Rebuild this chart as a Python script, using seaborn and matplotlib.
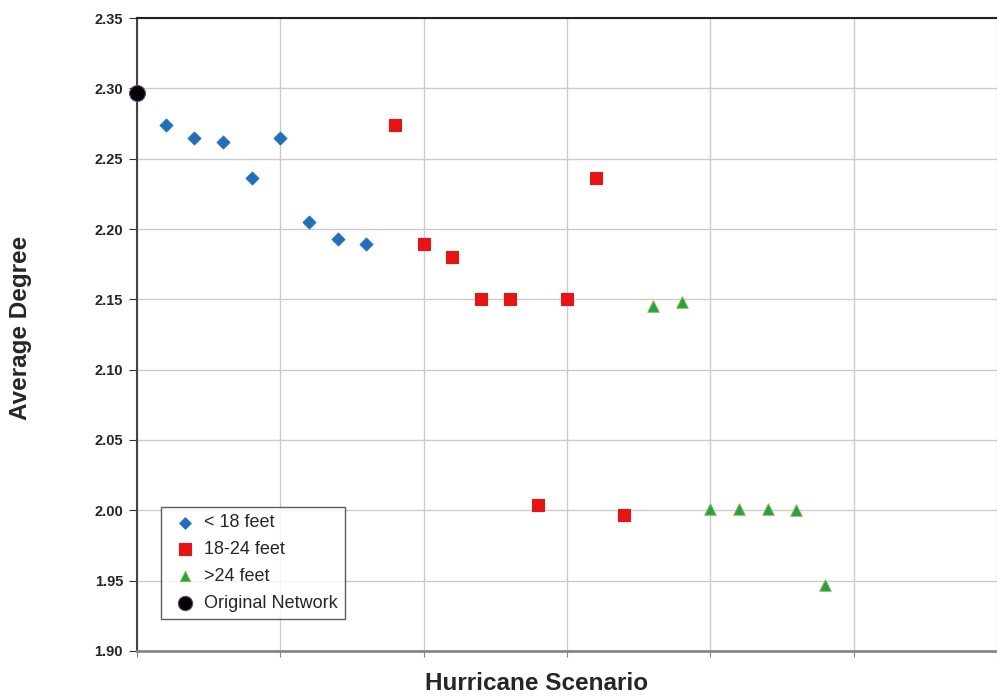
import matplotlib.pyplot as plt
import seaborn as sns
import pandas as pd

# scenario index and average degree
orig_x = [0]
orig_y = [2.297]
low_x = [1, 2, 3, 4, 5, 6, 7, 8]
low_y = [2.274, 2.265, 2.262, 2.236, 2.265, 2.205, 2.193, 2.189]
mid_x = [9, 10, 11, 12, 13, 14, 15, 16, 17]
mid_y = [2.274, 2.189, 2.180, 2.150, 2.150, 2.004, 2.150, 2.236, 1.997]
high_x = [18, 19, 20, 21, 22, 23, 24]
high_y = [2.145, 2.148, 2.001, 2.001, 2.001, 2.000, 1.947]

sns.set_style('white')
plt.rcParams['font.family'] = ['Liberation Sans', 'DejaVu Sans']

fig = plt.figure(figsize=(9.97, 6.96), dpi=100)
ax = fig.add_axes([0.1374, 0.0647, 0.8626, 0.9094])

low = pd.DataFrame({'x': low_x, 'y': low_y})
mid = pd.DataFrame({'x': mid_x, 'y': mid_y})
high = pd.DataFrame({'x': high_x, 'y': high_y})
orig = pd.DataFrame({'x': orig_x, 'y': orig_y})

sns.scatterplot(data=low, x='x', y='y', marker='D', s=45, color='#1f6fc0',
                edgecolor='#1f6fc0', label='< 18 feet', ax=ax, zorder=3)
sns.scatterplot(data=mid, x='x', y='y', marker='s', s=85, color='#ee1111',
                edgecolor='#ee1111', label='18-24 feet', ax=ax, zorder=3)
sns.scatterplot(data=high, x='x', y='y', marker='^', s=70, color='#18a84a',
                edgecolor='#a8b030', linewidth=0.6, label='>24 feet', ax=ax, zorder=3)
sns.scatterplot(data=orig, x='x', y='y', marker='o', s=130, color='black',
                edgecolor='#6a3d8a', linewidth=0.8, label='Original Network',
                ax=ax, zorder=4, clip_on=False)

ax.set_xlim(0, 30)
ax.set_ylim(1.90, 2.35)
ax.set_xticks([0, 5, 10, 15, 20, 25, 30])
ax.set_xticklabels([])
ax.set_yticks([1.90, 1.95, 2.00, 2.05, 2.10, 2.15, 2.20, 2.25, 2.30, 2.35])
ax.set_yticklabels(['%.2f' % v for v in ax.get_yticks()], fontsize=10.5, fontweight='bold')
ax.tick_params(axis='x', length=4, width=0.8, color='#888888', direction='out', bottom=True)
ax.tick_params(axis='y', length=6, width=0.8, color='#333333', direction='out', left=True, pad=4)
ax.grid(True, color='#cccccc', linewidth=1)
ax.set_axisbelow(True)

ax.spines['top'].set_color('#222222')
ax.spines['top'].set_linewidth(1.5)
ax.spines['left'].set_color('#444444')
ax.spines['left'].set_linewidth(1.5)
ax.spines['bottom'].set_color('#888888')
ax.spines['bottom'].set_linewidth(2)
ax.spines['right'].set_visible(False)

ax.set_xlabel('Hurricane Scenario', fontsize=17.5, fontweight='bold')
ax.set_ylabel('Average Degree', fontsize=17.5, fontweight='bold')
ax.xaxis.set_label_coords(0.465, -0.051, transform=ax.transAxes)
ax.xaxis.label.set_va('center')
ax.yaxis.set_label_coords(-0.136, 0.51, transform=ax.transAxes)
ax.yaxis.label.set_va('center')

leg = ax.legend(loc='lower left', bbox_to_anchor=(0.028, 0.05), fontsize=13,
                frameon=True, fancybox=False, edgecolor='#333333',
                borderaxespad=0, handletextpad=0.1, borderpad=0.4,
                labelspacing=0.55, handlelength=1.9, markerscale=0.9)
leg.get_frame().set_linewidth(1)

fig.savefig('out.png', dpi=100)
